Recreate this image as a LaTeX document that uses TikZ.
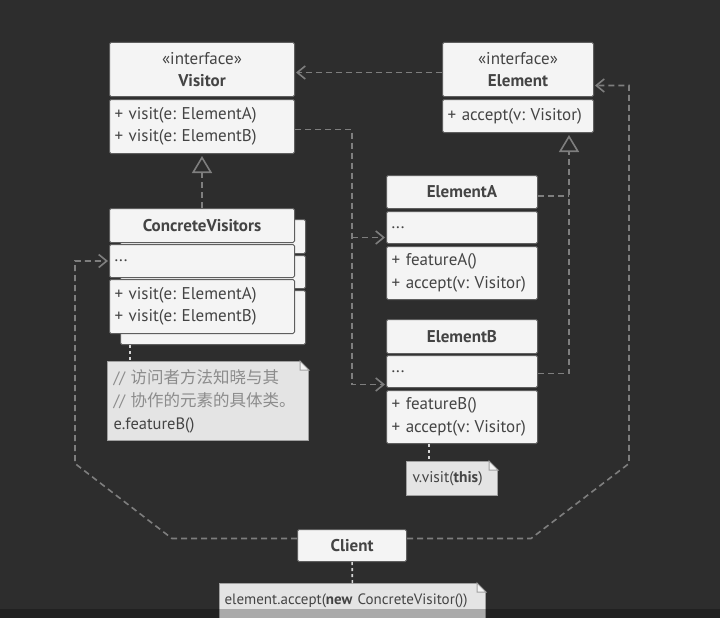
\documentclass[tikz,border=0pt]{standalone}
\usepackage{fontspec}
\setmainfont{PT Sans}
\newfontfamily\cjk{Noto Sans CJK SC}
\usetikzlibrary{arrows.meta}
\frenchspacing

\definecolor{bg}{HTML}{2D2D2D}
\definecolor{boxfill}{HTML}{F4F4F4}
\definecolor{boxline}{HTML}{5E5E5E}
\definecolor{ink}{HTML}{444444}
\definecolor{link}{HTML}{7E7E7E}
\definecolor{notefill}{HTML}{E4E4E4}
\definecolor{noteline}{HTML}{A0A0A0}
\definecolor{remark}{HTML}{8C8C8C}
\definecolor{tether}{HTML}{D6D6D6}

\begin{document}
\begin{tikzpicture}[
	x=1pt, y=-1pt,
	font=\fontsize{17}{22.5}\selectfont, text=ink,
	part/.style={draw=boxline, fill=boxfill, line width=1pt, rounded corners=1.5pt,
		anchor=north west, inner xsep=5pt, inner ysep=0pt},
	head/.style={part, align=center},
	body/.style={part, align=left},
	memo/.style={draw=noteline, fill=notefill, line width=1pt, anchor=north west,
		inner xsep=6pt, inner ysep=0pt, align=left},
	dep/.style={draw=link, line width=1.6pt, dash pattern=on 6pt off 4pt,
		-{Straight Barb[length=8pt,width=13pt]}, shorten >=1pt},
	impl/.style={draw=link, line width=1.6pt, dash pattern=on 6pt off 4pt,
		-{Triangle[open,length=17pt,width=20pt]}, shorten >=2pt},
	bus/.style={draw=link, line width=1.6pt, dash pattern=on 6pt off 4pt},
	tie/.style={draw=tether, line width=1.6pt, dash pattern=on 3pt off 3pt}
]
	\useasboundingbox (0,0) rectangle (720,618);
	\fill[bg] (0,0) rectangle (720,618);

	% Visitor interface
	\node[head, text width=175pt, minimum height=54pt] (vishead) at (109,42) {«interface»\\\textbf{Visitor}};
	\node[body, text width=175pt, minimum height=54pt] (vismeth) at (109,99) {+ visit(e: ElementA)\\+ visit(e: ElementB)};

	% Element interface
	\node[head, text width=141pt, minimum height=54pt] (elhead) at (442,42) {«interface»\\\textbf{Element}};
	\node[body, text width=141pt, minimum height=33pt] (elmeth) at (442,99) {+ accept(v: Visitor)};

	% ConcreteVisitors, one copy behind the other
	\foreach \y/\h [count=\i] in {219/34, 255/33, 290/54}
		\node[part, minimum width=185pt, minimum height=\h pt] (cvback\i) at (120,\y) {};
	\node[head, text width=175pt, minimum height=34pt] (cvhead) at (109,208) {\textbf{ConcreteVisitors}};
	\node[body, text width=175pt, minimum height=33pt] (cvdots) at (109,244) {...};
	\node[body, text width=175pt, minimum height=54pt] (cvmeth) at (109,279) {+ visit(e: ElementA)\\+ visit(e: ElementB)};

	% ElementA
	\node[head, text width=141pt, minimum height=33pt] (eahead) at (386,175) {\textbf{ElementA}};
	\node[body, text width=141pt, minimum height=32pt] (eadots) at (386,211) {...};
	\node[body, text width=141pt, minimum height=53pt] (eameth) at (386,246) {+ featureA()\\+ accept(v: Visitor)};

	% ElementB
	\node[head, text width=141pt, minimum height=34pt] (ebhead) at (386,319) {\textbf{ElementB}};
	\node[body, text width=141pt, minimum height=32pt] (ebdots) at (386,355) {...};
	\node[body, text width=141pt, minimum height=53pt] (ebmeth) at (386,390) {+ featureB()\\+ accept(v: Visitor)};

	% Client
	\node[head, text width=99pt, minimum height=32pt] (client) at (297,529) {\textbf{Client}};

	% notes
	\node[memo, font=\fontsize{16.5}{23}\selectfont, text width=189pt, minimum height=79pt] (cvnote) at (107,361)
		{{\color{remark}// {\cjk 访问者方法知晓与其}}\\{\color{remark}// {\cjk 协作的元素的具体类。}}\\e.featureB()};
	\node[memo, font=\fontsize{15.5}{20}\selectfont, text width=79pt, minimum height=34pt] (ebnote) at (406,461) {v.visit(\textbf{this})};
	\node[memo, font=\fontsize{15}{20}\selectfont, inner xsep=5pt, text width=256pt, minimum height=35pt] (clnote) at (219,583)
		{element.accept(\textbf{new} ConcreteVisitor())};
	\foreach \n in {cvnote, ebnote, clnote} {
		\fill[bg] (\n.north east) -- ++(-9,0) -- ++(9,9) -- cycle;
		\draw[draw=noteline, line width=1pt, fill=notefill!40] ([xshift=-9pt]\n.north east) -- ++(0,9) -- ++(9,0) -- cycle;
	}

	% connectors
	\draw[dep] ([yshift=-3pt]elhead.west) -- ([yshift=-3pt]vishead.east);
	\draw[dep] ([yshift=-3pt]vismeth.east) -| ([xshift=-34pt,yshift=-13pt]ebdots.west) -- ([yshift=-13pt]ebdots.west);
	\draw[dep] ([xshift=-34pt,yshift=-10pt]eadots.west) -- ([yshift=-10pt]eadots.west);
	\draw[impl] (cvhead) -- (vismeth);
	\coordinate (elbus) at ([xshift=-25pt]elmeth.south east);
	\draw[impl] ([yshift=-2pt]ebdots.east) -| (elbus);
	\draw[bus] ([yshift=-4pt]eahead.east) -- ([yshift=-4pt]eahead.east -| elbus);
	\draw[dep] ([yshift=7pt]client.west) -- ++(-125,0) -- ++(-97,-75) |- (cvdots.west);
	\draw[dep] ([yshift=7pt]client.east) -- ++(124,0) -- ++(98,-75) |- ([yshift=-16pt]elhead.east);

	\draw[tie] ([xshift=10pt]cvback3.south west) -- ([xshift=10pt]cvback3.south west |- cvnote.north);
	\draw[tie] ([xshift=43pt]ebmeth.south west) -- ([xshift=43pt]ebmeth.south west |- ebnote.north);
	\draw[tie] (client) -- (clnote);

	\fill[black, opacity=0.25] (0,609) rectangle (720,618); % strip at the bottom
\end{tikzpicture}
\end{document}
